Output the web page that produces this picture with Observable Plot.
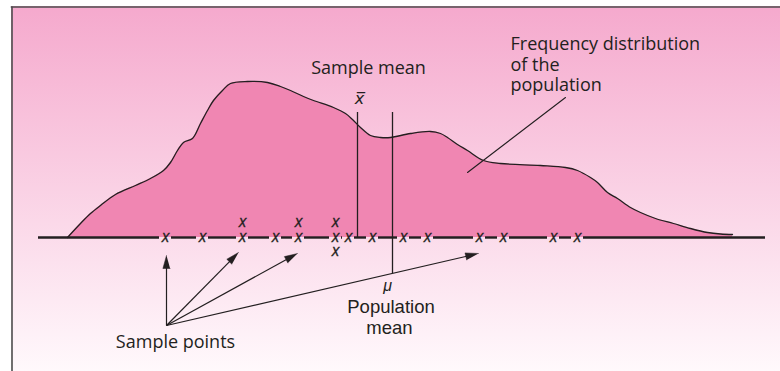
<!DOCTYPE html>
<html><head><meta charset="utf-8">
<script src="https://cdn.jsdelivr.net/npm/d3@7"></script>
<script src="https://cdn.jsdelivr.net/npm/@observablehq/plot@0.6"></script>
<style>
html,body{margin:0;padding:0;background:#fff;}
#chart svg{display:block;}
</style></head><body><div id="chart"></div>
<script>
// Population frequency distribution: value (x) and frequency height above the baseline (f)
const distX = [67,80,90,100,115,135,150,163,170,177,183,192,200,207,213,222,230,247,267,280,290,303,313,333,345,352,360,370,380,390,410,430,440,447,457,467,483,500,540,565,577,590,597,607,617,630,640,655,673,690,707,720,732];
const distF = [0,14,24,32,43,52,59,67,75,87,95,99,114,127,137,147,154,156,155,151,147,141,137,130,124,118,110,102,100,100,104,106,104,100,93,87,77,74,72,70,67,60,55,45,39,30,25,19,14,9,5,3.5,3];

// Sample points (value, stacking level)
const sampleX = [165,202,242,242,275,298,298,335,335,335,348,372,403,427,479,503,553,577];
const sampleY = [0,0,0,15,0,0,15,0,15,-14,0,0,0,0,0,0,0,0];

// Means
const sampleMean = 357;
const populationMean = 392;
const meanTop = 125;
const populationMeanBottom = -36;

// Axis extent
const axisStart = 38, axisEnd = 765;

// Arrows from "Sample points" label
const arrowOrigin = [166, -88];
const arrowTargets = [[166,-18],[238,-15],[297,-16],[478,-16]];

// Leader to the distribution
const leader = [[565,140],[467,65]];

// Frame
const frameLeft = 11.5, frameTop = 230.5, frameRight = 780, frameBottom = -134;

// Labels (data-space anchors)
const freqLabel = ["Frequency distribution", "of the", "population"];
const freqLabelX = 510, freqLabelY = [188, 167, 147];
const sampleMeanLabel = {text: "Sample mean", x: 368, y: 164};
const xbarLabel = {text: "x\u0305", x: 359, y: 134};
const muLabel = {text: "\u03bc", x: 387, y: -53};
const popLabel = [{text: "Population", x: 390.5, y: -75}, {text: "mean", x: 389, y: -96}];
const samplePointsLabel = {text: "Sample points", x: 175, y: -110};

const dist = distX.map((x, i) => ({x, f: distF[i]}));
const samples = sampleX.map((x, i) => ({x, y: sampleY[i]}));
const onAxis = sampleX.filter((x, i) => sampleY[i] === 0).sort((a, b) => a - b);
const gap = 6;
const axisSegs = [];
{
  let s = axisStart;
  for (const m of onAxis) { if (m - gap > s) axisSegs.push({x1: s, x2: m - gap}); s = m + gap; }
  axisSegs.push({x1: s, x2: axisEnd});
}
const shafts = arrowTargets.map(([x2, y2], i) => ({id: i, x1: arrowOrigin[0], y1: arrowOrigin[1], x2, y2}));
const heads = [];
const L = 13, W = 3.6;
shafts.forEach(s => {
  const dx = s.x2 - s.x1, dy = s.y2 - s.y1, len = Math.hypot(dx, dy);
  const ux = dx / len, uy = dy / len, px = -uy, py = ux;
  const bx = s.x2 - L * ux, by = s.y2 - L * uy;
  heads.push({id: s.id, x: s.x2, y: s.y2});
  heads.push({id: s.id, x: bx + W * px, y: by + W * py});
  heads.push({id: s.id, x: bx - W * px, y: by - W * py});
  s.bx = bx + 2 * ux; s.by = by + 2 * uy;
});

const ink = "#231f20";
const myriad = "'Open Sans', 'Noto Sans', sans-serif";
const helv = "'Liberation Sans', Arial, sans-serif";

const chart = Plot.plot({
  width: 780,
  height: 371,
  margin: 0,
  x: {domain: [0, 780], range: [0, 780], axis: null},
  y: {domain: [-134, 237], range: [371, 0], axis: null},
  style: "background-color:#fff;background-image:linear-gradient(to bottom,#f5a9cd,#fff9fc);background-repeat:no-repeat;background-position:11px 6px;background-size:769px 365px;overflow:visible;",
  marks: [
    // frame
    Plot.ruleY([frameTop], {x1: frameLeft - 0.75, x2: frameRight, stroke: "#4d4d4d", strokeWidth: 1.6}),
    Plot.ruleX([frameLeft], {y1: frameBottom, y2: frameTop, stroke: "#4d4d4d", strokeWidth: 1.6}),
    // distribution
    Plot.areaY(dist, {x: "x", y: "f", fill: "#f086b2", curve: "catmull-rom"}),
    Plot.line(dist, {x: "x", y: "f", stroke: ink, strokeWidth: 1.3, curve: "catmull-rom"}),
    // baseline with gaps
    Plot.ruleY(axisSegs, {y: 0, x1: "x1", x2: "x2", stroke: ink, strokeWidth: 2.4}),
    // mean lines
    Plot.ruleX([sampleMean], {y1: 0, y2: meanTop, stroke: ink, strokeWidth: 1.3}),
    Plot.ruleX([populationMean], {y1: populationMeanBottom, y2: meanTop, stroke: ink, strokeWidth: 1.3}),
    // sample point markers
    Plot.text(samples, {x: "x", y: "y", text: () => "x", fontFamily: myriad, fontStyle: "italic", fontSize: 16, fill: ink, stroke: ink, strokeWidth: 0.3, dy: -1}),
    // arrows
    Plot.link(shafts, {x1: "x1", y1: "y1", x2: "bx", y2: "by", stroke: ink, strokeWidth: 1.2}),
    Plot.line(heads, {x: "x", y: "y", z: "id", fill: ink, stroke: ink, strokeWidth: 0.5}),
    // leader line
    Plot.line(leader, {x: d => d[0], y: d => d[1], stroke: ink, strokeWidth: 1.1}),
    // labels
    Plot.text(freqLabel, {x: freqLabelX, y: (d, i) => freqLabelY[i], text: d => d, textAnchor: "start", lineAnchor: "bottom", fontFamily: myriad, fontSize: 18, fill: ink}),
    Plot.text([sampleMeanLabel], {x: "x", y: "y", text: "text", lineAnchor: "bottom", fontFamily: myriad, fontSize: 18, fill: ink}),
    Plot.text([xbarLabel], {x: "x", y: "y", text: "text", lineAnchor: "bottom", fontFamily: "'DejaVu Sans', sans-serif", fontStyle: "italic", fontSize: 16, fill: ink}),
    Plot.text([muLabel], {x: "x", y: "y", text: "text", lineAnchor: "bottom", fontFamily: helv, fontStyle: "italic", fontSize: 16, fill: ink}),
    Plot.text(popLabel, {x: "x", y: "y", text: "text", lineAnchor: "bottom", fontFamily: helv, fontSize: 18.5, fill: ink}),
    Plot.text([samplePointsLabel], {x: "x", y: "y", text: "text", lineAnchor: "bottom", fontFamily: myriad, fontSize: 18, fill: ink})
  ]
});
document.getElementById("chart").appendChild(chart);
</script></body></html>
